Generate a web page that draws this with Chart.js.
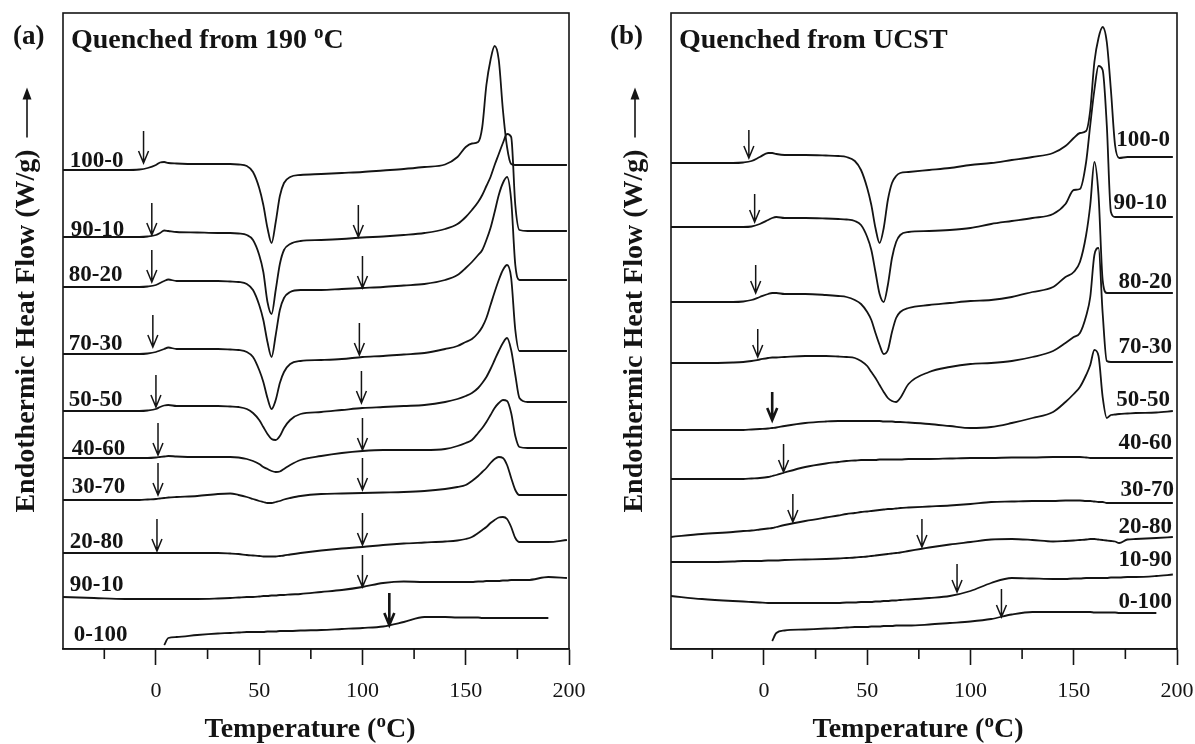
<!DOCTYPE html>
<html>
<head>
<meta charset="utf-8">
<script src="https://cdn.jsdelivr.net/npm/chart.js@4.4.0/dist/chart.umd.min.js"></script>
<style>
  body { margin: 0; background: #fff; }
  canvas { position: absolute; top: 0; }
  #chartA { left: 0; }
  #chartB { left: 598px; }
</style>
</head>
<body>
<canvas id="chartA" width="598" height="744"></canvas>
<canvas id="chartB" width="597" height="744"></canvas>
<script>
const tempsA = [-45, -30, -15, -8, -4, 0, 2, 4, 6, 10, 20, 30, 36, 40, 44, 47, 50, 52, 54, 56, 58, 60, 62, 65, 70, 80, 90, 100, 110, 120, 130, 140, 146, 150, 153, 156, 158, 160, 162, 164, 166, 168, 170, 172, 174, 176, 180, 190, 199];
const tempsB = [-45, -30, -15, -10, -6, -2, 2, 4, 6, 10, 20, 30, 36, 40, 44, 47, 50, 52, 54, 56, 58, 60, 62, 64, 66, 70, 80, 90, 100, 110, 120, 130, 140, 146, 150, 153, 156, 158, 160, 162, 164, 166, 168, 170, 172, 176, 180, 190, 198];

// (a) quenched from 190 C, heat flow with vertical offsets (arb. units)
const a100 = [47.9,47.9,47.9,47.95,48.1, 48.4,48.65,48.7,48.6,48.55, 48.5,48.5,48.5,48.45,48.3, 47.7,46.1,44.4,42.1,40.6, 42.7,45.3,46.6,47.2,47.4, 47.5,47.6,47.7,47.85,48.0, 48.2,48.45,49.2,50.2,50.55, 50.7,52.2,56.4,58.9,60.3, 58.9,53.9,50.2,48.5,48.4, 48.4,48.4,48.4,48.4];
const a90 = [41.2,41.2,41.2,41.2,41.25, 41.4,41.6,41.85,41.8,41.7, 41.65,41.6,41.6,41.55,41.4, 40.9,39.4,37.7,34.7,33.5, 35.9,38.5,39.9,40.5,40.8, 40.9,41.0,41.15,41.25,41.4, 41.6,42.0,42.5,43.2,43.9, 44.7,45.4,46.3,47.2,48.4, 49.5,50.6,51.5,51.2,44.4, 41.9,41.8,41.8,41.8];
const a80 = [36.2,36.2,36.2,36.2,36.25, 36.4,36.6,36.8,36.95,36.8, 36.8,36.8,36.75,36.7,36.5, 35.9,34.4,32.9,30.7,29.2, 31.4,33.9,35.1,35.7,35.9, 35.9,36.0,36.1,36.2,36.35, 36.5,36.9,37.4,38.1,38.7, 39.4,39.9,40.9,42.1,43.7, 45.4,46.6,47.2,44.9,38.4, 36.9,36.9,36.9,36.9];
const a70 = [29.5,29.5,29.5,29.5,29.55, 29.7,29.85,30.0,30.15,30.0, 30.0,30.0,29.95,29.9,29.7, 29.2,27.9,26.7,25.1,24.0, 24.9,26.6,27.7,28.5,28.8, 28.9,29.0,29.2,29.3,29.45, 29.6,30.0,30.3,30.7,31.0, 31.6,32.2,33.1,34.4,35.7, 36.9,37.9,38.4,37.1,31.9, 29.8,29.8,29.8,29.8];
const a50 = [23.8,23.8,23.8,23.8,23.85, 24.0,24.2,24.35,24.4,24.3, 24.3,24.3,24.25,24.2,24.0, 23.6,22.9,22.2,21.5,21.0, 20.9,21.3,22.1,22.9,23.5, 23.7,23.9,24.1,24.2,24.3, 24.4,24.7,25.0,25.3,25.6, 26.1,26.6,27.2,28.0,28.9, 29.8,30.6,31.1,29.9,27.4, 25.1,24.7,24.7,24.7];
const a40 = [19.1,19.1,19.1,19.1,19.1, 19.15,19.2,19.25,19.3,19.25, 19.2,19.2,19.2,19.15,19.0, 18.8,18.5,18.2,18.0,17.8, 17.7,17.75,18.0,18.4,18.9, 19.3,19.6,19.8,19.9,19.9, 19.9,20.0,20.3,20.6,20.9, 21.6,22.1,22.7,23.4,24.1, 24.6,24.9,24.8,23.6,21.3, 20.2,20.1,20.1,20.1];
const a30 = [14.9,14.9,14.9,14.9,14.95, 15.0,15.05,15.1,15.15,15.2, 15.3,15.5,15.55,15.4,15.2, 15.0,14.8,14.7,14.6,14.6, 14.7,14.8,14.95,15.1,15.3, 15.5,15.55,15.6,15.65,15.7, 15.8,16.0,16.2,16.4,16.8, 17.3,17.7,18.1,18.6,19.0, 19.2,19.1,18.4,17.1,15.9, 15.4,15.4,15.4,15.4];
const a20 = [9.6,9.6,9.6,9.6,9.6, 9.6,9.6,9.6,9.6,9.6, 9.6,9.6,9.55,9.5,9.4, 9.35,9.3,9.25,9.25,9.25, 9.25,9.3,9.35,9.45,9.6, 9.85,10.05,10.2,10.4,10.55, 10.65,10.75,10.85,11.0,11.2, 11.6,11.9,12.2,12.6,12.9, 13.15,13.2,13.0,12.2,11.1, 10.7,10.7,10.7,10.9];
const a10 = [5.2,5.1,5.0,5.0,5.0, 5.0,5.0,5.0,5.0,5.0, 5.0,5.05,5.1,5.15,5.2, 5.2,5.25,5.3,5.3,5.35, 5.35,5.4,5.4,5.45,5.5, 5.7,5.9,6.2,6.6,6.75, 6.7,6.7,6.7,6.7,6.7, 6.75,6.75,6.8,6.8,6.8, 6.8,6.85,6.85,6.9,6.9, 6.9,6.9,7.2,7.1];
const a0 = [null,null,null,null,null, null,null,0.4,1.1,1.2, 1.4,1.55,1.6,1.65,1.7, 1.7,1.7,1.7,1.75,1.75, 1.75,1.8,1.8,1.8,1.85, 1.9,2.0,2.1,2.25,2.7, 3.2,3.2,3.15,3.15,3.15, 3.15,3.1,3.1,3.1,3.1, 3.1,3.1,3.1,3.1,3.1, 3.1,3.1,3.1,null];

// (b) quenched from UCST
const b100 = [48.6,48.6,48.6,48.65,48.8, 49.2,49.6,49.6,49.5,49.4, 49.4,49.35,49.3,49.2,48.8, 47.9,46.1,44.4,42.1,40.6, 42.1,44.9,46.6,47.3,47.6, 47.7,47.9,48.1,48.4,48.6, 48.9,49.2,49.6,50.3,51.1, 51.6,51.8,53.9,58.7,61.1, 62.2,60.7,55.9,50.4,49.1, 49.2,49.2,49.2,49.2];
const b90 = [42.2,42.2,42.2,42.2,42.25, 42.5,42.9,43.1,43.2,43.1, 43.1,43.05,43.0,42.95,42.8, 42.4,41.2,39.9,37.7,35.5, 34.7,36.4,39.1,40.7,41.4, 41.7,41.8,41.9,42.1,42.5, 42.8,43.1,43.5,44.5,45.9, 46.0,48.7,52.4,55.9,58.3, 57.9,52.4,43.7,43.2,43.2, 43.2,43.2,43.2,43.2];
const b80 = [34.7,34.7,34.7,34.75,34.9, 35.2,35.5,35.6,35.6,35.5, 35.5,35.4,35.3,35.2,34.9, 34.5,33.7,32.9,31.6,30.4, 29.5,29.9,31.7,33.1,33.7, 34.1,34.4,34.6,34.8,34.9, 35.2,35.7,36.2,37.2,37.7, 38.7,41.4,44.4,48.7,45.4, 36.9,35.6,35.6,35.6,35.6, 35.6,35.6,35.6,35.6];
const b70 = [28.6,28.6,28.65,28.7,28.8, 28.95,29.1,29.15,29.15,29.2, 29.3,29.3,29.25,29.2,29.1, 28.8,28.3,27.7,27.1,26.4, 25.7,25.1,24.8,24.7,25.1, 26.5,27.7,28.2,28.5,28.6, 28.8,29.2,29.8,30.6,31.2, 31.6,33.3,35.2,39.4,40.1, 33.6,28.8,28.7,28.7,28.7, 28.7,28.7,28.7,28.7];
const b50 = [21.9,21.9,21.9,21.9,21.95, 22.0,22.05,22.1,22.15,22.3, 22.6,22.75,22.8,22.8,22.8, 22.8,22.8,22.8,22.8,22.8, 22.75,22.75,22.75,22.7,22.7, 22.65,22.5,22.3,22.1,22.2, 22.6,23.1,23.7,24.7,25.5, 26.2,27.4,28.4,29.9,29.3, 25.2,23.1,23.4,23.45,23.5, 23.55,23.6,23.65,23.8];
const b40 = [17.0,17.0,17.0,17.0,17.05, 17.1,17.2,17.3,17.4,17.65, 18.2,18.55,18.7,18.8,18.85, 18.9,18.9,18.9,18.9,18.95, 18.95,18.95,18.95,18.95,18.95, 19.0,19.0,19.05,19.1,19.1, 19.15,19.15,19.2,19.2,19.2, 19.2,19.15,19.1,19.1,19.1, 19.1,19.1,19.1,19.1,19.1, 19.1,19.1,19.1,19.1];
const b30 = [11.2,11.5,11.7,11.8,11.85, 11.95,12.05,12.1,12.2,12.4, 12.8,13.15,13.35,13.5,13.6, 13.7,13.75,13.8,13.85,13.9, 13.95,14.0,14.0,14.05,14.1, 14.15,14.25,14.35,14.5,14.7, 14.75,14.8,14.8,14.85,14.85, 14.85,14.8,14.8,14.75,14.7, 14.7,14.6,14.6,14.6,14.6, 14.6,14.6,14.6,14.6];
const b20 = [8.7,8.7,8.75,8.8,8.8, 8.8,8.85,8.85,8.85,8.9, 8.95,9.0,9.05,9.1,9.15, 9.2,9.25,9.3,9.35,9.4, 9.45,9.5,9.55,9.6,9.65, 9.8,10.15,10.45,10.7,10.95, 11.0,10.9,10.75,10.8,10.85, 10.9,10.95,11.0,11.0,10.95, 10.9,10.85,10.8,10.75,10.6, 10.95,11.0,11.1,11.2];
const b10 = [5.3,5.0,4.8,4.75,4.7, 4.65,4.6,4.6,4.6,4.6, 4.6,4.6,4.6,4.65,4.65, 4.7,4.7,4.7,4.75,4.75, 4.8,4.8,4.85,4.85,4.9, 4.95,5.1,5.3,5.8,6.6, 7.1,7.05,7.0,7.0,7.05, 7.05,7.1,7.1,7.1,7.1, 7.1,7.1,7.15,7.15,7.15, 7.2,7.2,7.3,7.45];
const b0 = [null,null,null,null,null, null,null,0.8,1.6,1.85, 1.95,2.05,2.1,2.15,2.2, 2.2,2.2,2.25,2.25,2.25, 2.3,2.3,2.3,2.35,2.35, 2.35,2.45,2.6,2.75,3.0, 3.45,3.7,3.7,3.7,3.7, 3.7,3.7,3.7,3.65,3.65, 3.65,3.65,3.65,3.65,3.6, 3.6,3.6,3.6,null];

// curve labels (as printed) and where they sit
const labelsA = ['100-0', '90-10', '80-20', '70-30', '50-50', '40-60', '30-70', '20-80', '90-10', '0-100'];
const labelTA = [-41.7, -41.3, -42.2, -42.2, -42.2, -40.8, -40.8, -41.7, -41.7, -39.8];
const labelYA = [48.8, 41.9, 37.4, 30.45, 24.9, 20.0, 16.2, 10.65, 6.35, 1.35];
const labelsB = ['100-0', '90-10', '80-20', '70-30', '50-50', '40-60', '30-70', '20-80', '10-90', '0-100'];
const labelTB = [196.6, 195.2, 197.6, 197.6, 196.6, 197.6, 198.6, 197.6, 197.6, 197.6];
const labelYB = [50.9, 44.55, 36.7, 30.15, 24.85, 20.55, 15.85, 12.15, 8.9, 4.65];

// transition arrows: temperature and tip height
const arrowTA = [-6, -2, 98, -2, 100, -1.5, 98.5, 0, 99.5, 1, 100, 1, 100, 0.5, 100, 100, 113];
const arrowYA = [48.6, 41.4, 41.2, 36.7, 36.1, 30.2, 29.4, 24.2, 24.6, 19.4, 19.9, 15.4, 15.9, 9.8, 10.4, 6.2, 2.4];
const arrowTB = [-7.3, -4.5, -4, -3, 4, 9.5, 14, 76.5, 93.5, 115];
const arrowYB = [49.1, 42.7, 35.6, 29.2, 22.9, 17.7, 12.7, 10.2, 5.7, 3.2];

const majorTicks = [0, 50, 100, 150, 200];
const minorTicks = [-25, 25, 75, 125, 175];

const INK = '#141414';
const SERIF = '"Liberation Serif", "Times New Roman", serif';

// draw text pieces, some as superscript
function drawParts(ctx, parts, x, y, size, align) {
  let w = 0;
  parts.forEach(p => {
    ctx.font = 'bold ' + (p[1] ? size * 0.68 : size) + 'px ' + SERIF;
    w += ctx.measureText(p[0]).width;
  });
  let cx = align === 'center' ? x - w / 2 : x;
  ctx.textAlign = 'left';
  ctx.textBaseline = 'middle';
  parts.forEach(p => {
    ctx.font = 'bold ' + (p[1] ? size * 0.68 : size) + 'px ' + SERIF;
    ctx.fillText(p[0], cx, p[1] ? y - size * 0.28 : y);
    cx += ctx.measureText(p[0]).width;
  });
}

const decor = {
  id: 'decor',
  afterDraw(chart, args, o) {
    const { ctx, chartArea: ca } = chart;
    const x = chart.scales.x, y = chart.scales.y;
    ctx.save();
    ctx.strokeStyle = INK;
    ctx.fillStyle = INK;

    // frame
    ctx.lineWidth = 1.6;
    ctx.strokeRect(ca.left, ca.top, ca.right - ca.left, ca.bottom - ca.top);

    // short minor ticks
    ctx.beginPath();
    minorTicks.forEach(v => {
      const px = x.getPixelForValue(v);
      ctx.moveTo(px, ca.bottom);
      ctx.lineTo(px, ca.bottom + 10);
    });
    ctx.stroke();

    // arrows
    o.arrowT.forEach((t, i) => {
      const px = x.getPixelForValue(t);
      const tip = y.getPixelForValue(o.arrowY[i]);
      const top = y.getPixelForValue(o.arrowY[i] + o.arrowLen);
      ctx.lineWidth = i === o.bold ? 2.6 : 1.5;
      ctx.beginPath();
      ctx.moveTo(px, top);
      ctx.lineTo(px, tip);
      ctx.moveTo(px - 5, tip - 12);
      ctx.lineTo(px, tip);
      ctx.lineTo(px + 5, tip - 12);
      ctx.stroke();
    });

    // curve labels
    ctx.font = 'bold 23px ' + SERIF;
    ctx.textBaseline = 'middle';
    ctx.textAlign = o.labelAlign;
    o.labels.forEach((s, i) => {
      ctx.fillText(s, x.getPixelForValue(o.labelT[i]), y.getPixelForValue(o.labelY[i]));
    });

    // panel letter and title
    ctx.font = 'bold 27px ' + SERIF;
    ctx.textAlign = 'left';
    ctx.fillText(o.letter, o.letterX, 37);
    drawParts(ctx, o.title, ca.left + 8, 41, 28, 'left');

    // x title
    drawParts(ctx, [['Temperature (', false], ['o', true], ['C)', false]], (ca.left + ca.right) / 2 - 6, 730, 28, 'center');

    // y title with arrow
    const yt = 'Endothermic Heat Flow (W/g)';
    ctx.translate(ca.left - 36, (ca.top + ca.bottom) / 2);
    ctx.rotate(-Math.PI / 2);
    ctx.font = 'bold 28px ' + SERIF;
    ctx.textAlign = 'center';
    ctx.fillText(yt, 0, 0);
    const w = ctx.measureText(yt).width;
    ctx.lineWidth = 1.6;
    ctx.beginPath();
    ctx.moveTo(w / 2 + 12, 0);
    ctx.lineTo(w / 2 + 52, 0);
    ctx.stroke();
    ctx.beginPath();
    ctx.moveTo(w / 2 + 62, 0);
    ctx.lineTo(w / 2 + 50, -4.5);
    ctx.lineTo(w / 2 + 50, 4.5);
    ctx.closePath();
    ctx.fill();

    ctx.restore();
  }
};

function makeChart(id, temps, curves, padLeft, padRight, deco) {
  return new Chart(document.getElementById(id), {
    type: 'line',
    data: {
      datasets: curves.map(c => ({
        data: temps.map((t, i) => ({ x: t, y: c[i] })),
        borderColor: INK,
        borderWidth: 1.8,
        pointRadius: 0,
        fill: false,
        spanGaps: false,
        cubicInterpolationMode: 'monotone'
      }))
    },
    options: {
      responsive: false,
      animation: false,
      events: [],
      layout: { padding: { left: padLeft, right: padRight, top: 13, bottom: 0 } },
      plugins: { legend: { display: false }, tooltip: { enabled: false }, decor: deco },
      scales: {
        x: {
          type: 'linear',
          min: -45,
          max: 200,
          afterBuildTicks: s => { s.ticks = majorTicks.map(v => ({ value: v })); },
          afterFit: s => { s.height = 95; s.paddingLeft = 0; s.paddingRight = 0; },
          ticks: { color: INK, font: { family: SERIF, size: 22 }, padding: 13, maxRotation: 0, autoSkip: false },
          grid: { drawOnChartArea: false, tickLength: 16, tickColor: INK, tickWidth: 1.6 },
          border: { display: true, color: INK, width: 1.6 }
        },
        y: { type: 'linear', display: false, min: 0, max: 63.6 }
      }
    },
    plugins: [decor]
  });
}

makeChart('chartA', tempsA, [a100, a90, a80, a70, a50, a40, a30, a20, a10, a0], 63, 29, {
  letter: '(a)', letterX: 13,
  title: [['Quenched from 190 ', false], ['o', true], ['C', false]],
  labels: labelsA, labelT: labelTA, labelY: labelYA, labelAlign: 'left',
  arrowT: arrowTA, arrowY: arrowYA, arrowLen: 3.2, bold: 16
});

makeChart('chartB', tempsB, [b100, b90, b80, b70, b50, b40, b30, b20, b10, b0], 73, 18, {
  letter: '(b)', letterX: 12,
  title: [['Quenched from UCST', false]],
  labels: labelsB, labelT: labelTB, labelY: labelYB, labelAlign: 'right',
  arrowT: arrowTB, arrowY: arrowYB, arrowLen: 2.8, bold: 4
});
</script>
</body>
</html>
